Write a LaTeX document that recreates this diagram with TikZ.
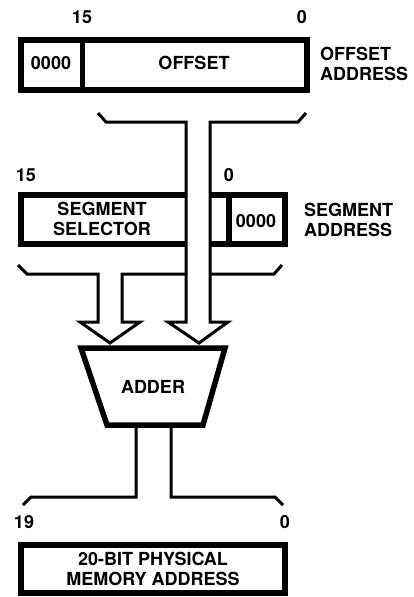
\documentclass[tikz,border=0pt]{standalone}
\usepackage{fontspec}
\setmainfont{TeX Gyre Heros}
\usepackage{tikz}

\tikzset{
  box/.style={line width=5.5pt},
  bus/.style={line width=3pt, line join=miter},
  txt/.style={inner sep=0pt, font=\fontsize{18}{20}\selectfont\bfseries, align=center},
  side/.style={txt, anchor=west, align=left},
}

\begin{document}
\begin{tikzpicture}[x=1pt,y=-1pt]
\useasboundingbox (0,0) rectangle (413,597);

% offset register
\begin{scope}
\draw[box] (21,40) rectangle (307,90);
\draw[box] (82.5,40) -- (82.5,90);
\node[txt] (offzero) at (51,63) {0000};
\node[txt] (offfield) at (194,63) {OFFSET};
\node[txt] (offmsb) at (82,17) {15};
\node[txt] (offlsb) at (302,17) {0};
\node[side] (offname) at (320,63.5) {OFFSET\\ADDRESS};
\end{scope}

% segment register
\begin{scope}
\draw[box] (21,195) rectangle (285,244);
\draw[box] (229,195) -- (229,244);
\fill[white] (186,190) rectangle (210,250);
\node[txt] (segfield) at (102,219) {SEGMENT\\SELECTOR};
\node[txt] (segzero) at (256,221) {0000};
\node[txt] (segmsb) at (26,175) {15};
\node[txt] (seglsb) at (229,175) {0};
\node[side] (segname) at (304,219.5) {SEGMENT\\ADDRESS};
\end{scope}

% adder
\draw[box] (81,348) -- (225,348) -- (203,425) -- (107,425) -- cycle;
\node[txt] (adder) at (153,387) {ADDER};

% buses
\draw[bus] (98,113) -- (106,122) -- (186,122) -- (186,322) -- (168,322)
  -- (199,343) -- (228,322) -- (210,322) -- (210,122) -- (298,122) -- (306,113);
\draw[bus] (18,265) -- (27,274) -- (98,274) -- (98,322) -- (80,322)
  -- (110,343) -- (140,322) -- (122,322) -- (122,274) -- (186,274);
\draw[bus] (210,274) -- (274,274) -- (282,265);
\draw[bus] (23,505) -- (31,497) -- (136,497) -- (136,425);
\draw[bus] (171,425) -- (171,497) -- (275,497) -- (283,505);

% physical address
\draw[box] (21,545) rectangle (285,593);
\node[txt] (phys) at (153,568.5) {20-BIT PHYSICAL\\MEMORY ADDRESS};
\node[txt] (physmsb) at (24,522) {19};
\node[txt] (physlsb) at (285,522) {0};
\end{tikzpicture}
\end{document}
